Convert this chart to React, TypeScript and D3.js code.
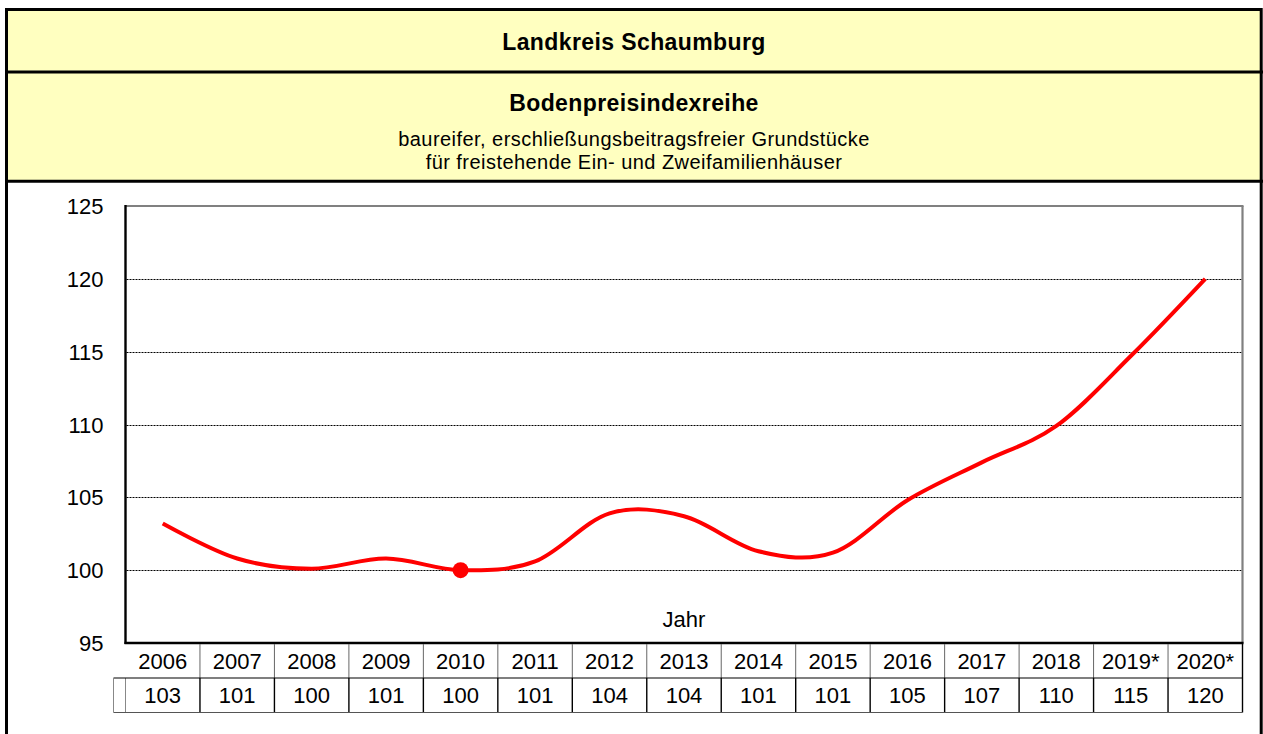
import React from "react";
import * as d3 from "d3";

const title = "Landkreis Schaumburg";
const subtitle = "Bodenpreisindexreihe";
const descLines = [
  "baureifer, erschließungsbeitragsfreier Grundstücke",
  "für freistehende Ein- und Zweifamilienhäuser",
];
const years = ["2006", "2007", "2008", "2009", "2010", "2011", "2012", "2013", "2014", "2015", "2016", "2017", "2018", "2019*", "2020*"];
const indexValues = [103.2, 100.8, 100.1, 100.8, 100.0, 100.6, 103.9, 103.7, 101.3, 101.2, 104.8, 107.4, 109.9, 114.7, 120.0];
const yTicks = [95, 100, 105, 110, 115, 120, 125];
const baseYear = "2010";
const xAxisTitle = "Jahr";

const FONT = "'Liberation Sans', Arial, Helvetica, sans-serif";

export default function App() {
  const W = 1263;
  const H = 734;
  const plotL = 125.5;
  const plotR = 1242.5;
  const plotT = 206;
  const plotB = 643;
  const rowH = 35;

  const x = d3.scaleBand<string>().domain(years).range([plotL, plotR]).paddingInner(0).paddingOuter(0);
  const y = d3.scaleLinear().domain([95, 125]).range([plotB, plotT]);
  const cx = (yr: string) => (x(yr) as number) + x.bandwidth() / 2;

  const line = d3
    .line<number>()
    .x((_, i) => cx(years[i]))
    .y((d) => y(d))
    .curve(d3.curveCatmullRom.alpha(0));

  const baseIdx = years.indexOf(baseYear);
  const row1T = plotB;
  const row2T = plotB + rowH;
  const row2B = row2T + rowH - 0.5;

  return (
    <svg
      width={W}
      height={H}
      style={{ position: "absolute", left: 0, top: 0, display: "block" }}
      fontFamily={FONT}
    >
      <rect x={0} y={0} width={W} height={H} fill="#ffffff" />
      {/* header */}
      <rect x={6.5} y={9.5} width={1254.7} height={171.8} fill="#FFFFC0" />
      <line x1={5} x2={1263} y1={72} y2={72} stroke="#000" strokeWidth={3} />
      <line x1={5} x2={1263} y1={181.3} y2={181.3} stroke="#000" strokeWidth={3} />
      <rect x={6.5} y={9.5} width={1254.7} height={800} fill="none" stroke="#000" strokeWidth={3} />

      <text x={634} y={49.5} textAnchor="middle" fontSize={23} fontWeight="bold" letterSpacing={0.4} fill="#000">
        {title}
      </text>
      <text x={634} y={111} textAnchor="middle" fontSize={23} fontWeight="bold" letterSpacing={0.4} fill="#000">
        {subtitle}
      </text>
      {descLines.map((t, i) => (
        <text key={t} x={634} y={145.5 + i * 23} textAnchor="middle" fontSize={20} letterSpacing={0.45} fill="#000">
          {t}
        </text>
      ))}

      {/* gridlines */}
      {yTicks
        .filter((t) => t > 95 && t < 125)
        .map((t) => (
          <line
            key={t}
            x1={plotL + 1}
            x2={plotR - 1}
            y1={Math.round(y(t)) + 0.5}
            y2={Math.round(y(t)) + 0.5}
            stroke="#000"
            strokeWidth={1}
            strokeDasharray="2,1"
          />
        ))}

      {/* plot frame */}
      <line x1={plotL} x2={plotR + 1} y1={plotT} y2={plotT} stroke="#808080" strokeWidth={2.2} />
      <line x1={plotR} x2={plotR} y1={plotT} y2={plotB} stroke="#808080" strokeWidth={2.2} />
      <line x1={plotL} x2={plotL} y1={plotT - 1} y2={plotB + 1} stroke="#000" strokeWidth={2.4} />
      <line x1={plotL - 1} x2={plotR + 1} y1={plotB} y2={plotB} stroke="#000" strokeWidth={2.6} />

      {/* y tick labels */}
      {yTicks.map((t) => (
        <text key={t} x={103.5} y={y(t) + 8} textAnchor="end" fontSize={22} fill="#000">
          {t}
        </text>
      ))}

      {/* axis title */}
      <text x={684} y={626.5} textAnchor="middle" fontSize={22} fill="#000">
        {xAxisTitle}
      </text>

      {/* series */}
      <path d={line(indexValues) || ""} fill="none" stroke="#FF0000" strokeWidth={4} strokeLinejoin="round" />
      <circle cx={cx(baseYear)} cy={y(indexValues[baseIdx])} r={8} fill="#FF0000" />

      {/* data table */}
      {years.map((yr, i) => {
        const x0 = x(yr) as number;
        return (
          <g key={yr}>
            {i > 0 && <line x1={x0} x2={x0} y1={row1T + 1} y2={row2T} stroke="#666" strokeWidth={1} />}
            <line x1={x0} x2={x0} y1={row2T} y2={row2B} stroke={i === 0 ? "#888" : "#000"} strokeWidth={i === 0 ? 1 : 1.4} />
            <text x={cx(yr)} y={row1T + 26} textAnchor="middle" fontSize={22} fill="#000">
              {yr}
            </text>
            <text x={cx(yr)} y={row2T + 25} textAnchor="middle" fontSize={22} fill="#000">
              {Math.round(indexValues[i])}
            </text>
          </g>
        );
      })}
      <line x1={plotR} x2={plotR} y1={row1T} y2={row2B} stroke="#000" strokeWidth={1.4} />
      <line x1={113.5} x2={plotR} y1={row2T} y2={row2T} stroke="#000" strokeWidth={1.2} />
      <line x1={113.5} x2={plotR} y1={row2B} y2={row2B} stroke="#555" strokeWidth={1.2} />
      <line x1={113.5} x2={113.5} y1={row2T} y2={row2B} stroke="#888" strokeWidth={1} />
    </svg>
  );
}
